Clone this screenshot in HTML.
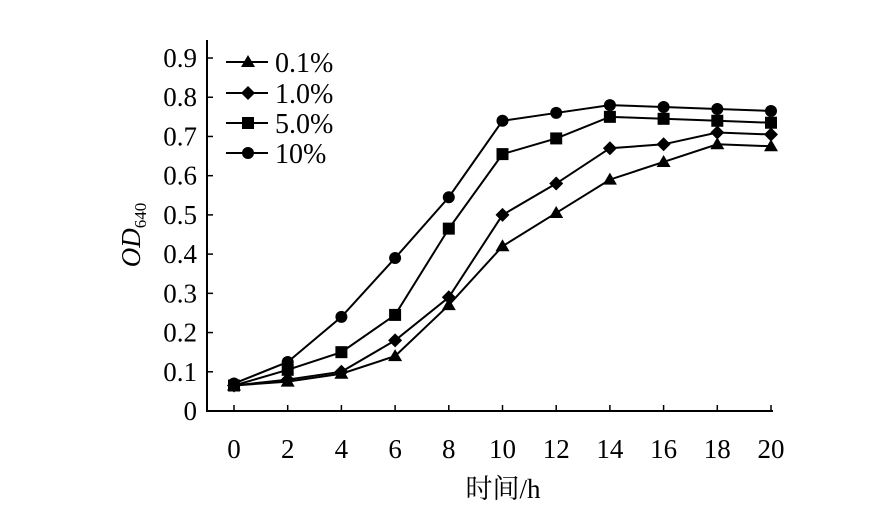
<!DOCTYPE html>
<html><head><meta charset="utf-8"><style>
body{margin:0;background:#fff}
svg{display:block;font-family:"Liberation Serif","Noto Serif CJK SC",serif}
</style></head><body>
<svg width="871" height="509" viewBox="0 0 871 509">
<g id="axes"></g>
<g id="series"></g>
<g id="legend"></g>
<text x="503" y="498" font-size="27" text-anchor="middle">时间/h</text>
<text transform="translate(140,235) rotate(-90)" font-size="27" text-anchor="middle" font-style="italic">OD<tspan font-size="17" font-style="normal" dy="6">640</tspan></text>
</svg>
<script>
const categories=[0,2,4,6,8,10,12,14,16,18,20];
const yTicks=[0,0.1,0.2,0.3,0.4,0.5,0.6,0.7,0.8,0.9];
const yTickLabels=["0","0.1","0.2","0.3","0.4","0.5","0.6","0.7","0.8","0.9"];
const seriesNames=["0.1%","1.0%","5.0%","10%"];
const s01=[0.065,0.075,0.095,0.14,0.27,0.42,0.505,0.59,0.635,0.68,0.675];
const s10=[0.065,0.08,0.1,0.18,0.29,0.5,0.58,0.67,0.68,0.71,0.705];
const s50=[0.065,0.105,0.15,0.245,0.465,0.655,0.695,0.75,0.745,0.74,0.735];
const s100=[0.07,0.125,0.24,0.39,0.545,0.74,0.76,0.78,0.775,0.77,0.765];
const NS="http://www.w3.org/2000/svg";
const X=v=>234+(v/20)*537;
const Y=v=>411-v*392.2;
function mk(t,a,p){const e=document.createElementNS(NS,t);for(const k in a)e.setAttribute(k,a[k]);p.appendChild(e);return e;}
const axes=document.getElementById('axes');
const ya=mk('line',{x1:207,y1:40,x2:207,y2:411,stroke:'#000','stroke-width':2},axes);


const xa=mk('line',{x1:206,y1:411,x2:773,y2:411,stroke:'#000','stroke-width':2},axes);


yTicks.forEach((v,i)=>{
 if(v>0){const t=mk('line',{x1:207,y1:Y(v),x2:213,y2:Y(v),stroke:'#000','stroke-width':1.5},axes);
 
 }
 const l=mk('text',{x:197,y:Y(v)+9,'font-size':27,'text-anchor':'end'},axes);l.textContent=yTickLabels[i];
 
 
});
categories.forEach(c=>{
 const t=mk('line',{x1:X(c),y1:411,x2:X(c),y2:405,stroke:'#000','stroke-width':1.5},axes);
 
 
 const l=mk('text',{x:X(c),y:458,'font-size':27,'text-anchor':'middle'},axes);l.textContent=String(c);
 
 
});
function marker(type,x,y,p){
 if(type==='tri')return mk('polygon',{points:`${x},${y-7} ${x-7},${y+5} ${x+7},${y+5}`,fill:'#000'},p);
 if(type==='dia')return mk('polygon',{points:`${x},${y-7} ${x+7},${y} ${x},${y+7} ${x-7},${y}`,fill:'#000'},p);
 if(type==='sq')return mk('rect',{x:x-6,y:y-6,width:12,height:12,fill:'#000'},p);
 return mk('circle',{cx:x,cy:y,r:6,fill:'#000'},p);
}
const sg=document.getElementById('series');
const all=[[s01,'tri'],[s10,'dia'],[s50,'sq'],[s100,'circ']];
all.forEach(([d,m],si)=>{
 const g=mk('g',{},sg);
 
 
 const pl=mk('polyline',{points:d.map((v,i)=>X(categories[i])+','+Y(v)).join(' '),fill:'none',stroke:'#000','stroke-width':2},g);
 
 
 d.forEach((v,i)=>{const e=marker(m,X(categories[i]),Y(v),g);
  
  });
});
const lg=document.getElementById('legend');
const ly=[62,93,123,153];
all.forEach(([d,m],i)=>{
 const g=mk('g',{},lg);
 
 
 mk('line',{x1:226,y1:ly[i],x2:268,y2:ly[i],stroke:'#000','stroke-width':2},g);
 marker(m,248,ly[i],g);
 const t=mk('text',{x:275,y:ly[i]+10,'font-size':28},g);t.textContent=seriesNames[i];
});
</script>
</body></html>
